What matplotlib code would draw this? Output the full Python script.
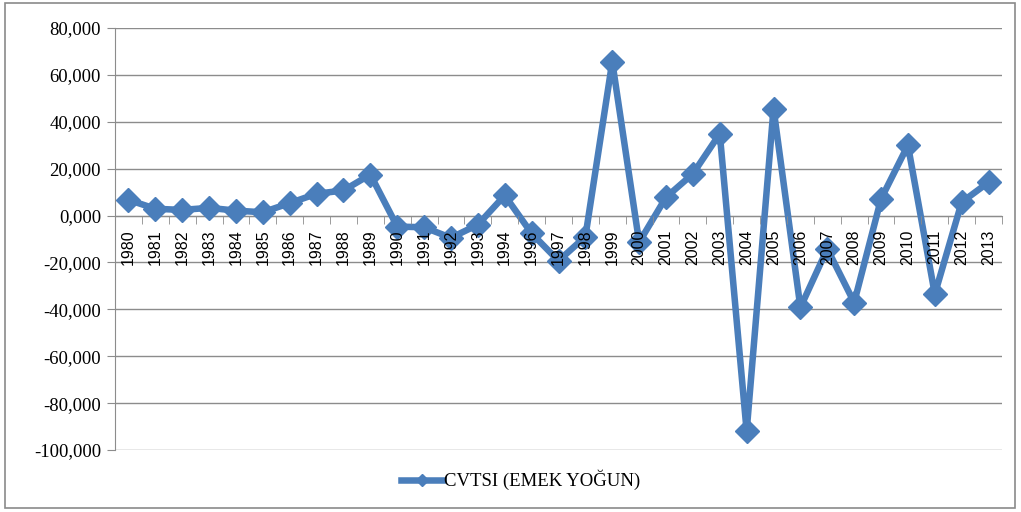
import matplotlib
matplotlib.use("Agg")
import matplotlib.pyplot as plt
from matplotlib.patches import Rectangle
from matplotlib.ticker import FixedLocator, FuncFormatter
import numpy as np

years = ["1980", "1981", "1982", "1983", "1984", "1985", "1986", "1987", "1988", "1989",
         "1990", "1991", "1992", "1993", "1994", "1996", "1997", "1998", "1999", "2000",
         "2001", "2002", "2003", "2004", "2005", "2006", "2007", "2008", "2009", "2010",
         "2011", "2012", "2013"]
cvtsi = [6700, 2900, 2400, 3300, 2100, 1400, 5300, 9300, 10700, 17500,
         -4700, -5000, -9500, -3900, 8600, -7600, -19300, -9000, 65600, -11400,
         7800, 17800, 34900, -92000, 45600, -39200, -14200, -37100, 7100, 30000,
         -33500, 5700, 14200]
series_name = "CVTSI (EMEK YOĞUN)"
y_ticks = [-100000, -80000, -60000, -40000, -20000, 0, 20000, 40000, 60000, 80000]

blue = "#4a7ebb"
grid_c = "#8c8c8c"

fig = plt.figure(figsize=(10.21, 5.12), dpi=100)
ax = fig.add_axes([115/1021, 1-450/512, (1002-115)/1021, (450-28)/512])

x = np.arange(len(years))
ax.plot(x, cvtsi, color=blue, lw=4.7, marker="D", markersize=12,
        markerfacecolor=blue, markeredgecolor=blue, label=series_name, zorder=3)

ax.set_xlim(-0.5, len(years) - 0.5)
ax.set_ylim(-100000, 80000)
ax.set_yticks(y_ticks)
ax.yaxis.set_major_formatter(FuncFormatter(lambda v, p: f"{int(v)/1000:.3f}".replace(".", ",") if v != 0 else "0,000"))
for lab in ax.get_yticklabels():
    lab.set_fontfamily("Liberation Serif")
    lab.set_fontsize(13.5)
ax.tick_params(axis="y", length=6, color=grid_c, pad=4, labelcolor="black")
ax.grid(axis="y", color=grid_c, lw=1)
ax.set_axisbelow(True)

for s in ["top", "right"]:
    ax.spines[s].set_visible(False)
ax.spines["left"].set_color(grid_c)
ax.spines["left"].set_zorder(1)
ax.spines["bottom"].set_position(("data", 0))
ax.spines["bottom"].set_color(grid_c)
ax.spines["bottom"].set_zorder(1)

ax.set_xticks(x)
ax.set_xticklabels(years, rotation=90, fontfamily="Liberation Sans", fontsize=11.5, va="top", ha="center")
ax.xaxis.set_minor_locator(FixedLocator(np.arange(-0.5, len(years), 1.0)))
ax.tick_params(axis="x", which="major", length=0, pad=10)
ax.tick_params(axis="x", which="minor", length=6, color=grid_c, direction="out")
ax.xaxis.set_zorder(5)

leg = fig.legend(loc="center", bbox_to_anchor=(521/1021, 1-480/512), frameon=False,
                 prop={"family": "Liberation Serif", "size": 13.5}, handlelength=2.2,
                 handletextpad=0.1, markerscale=0.55)

fig.patches.append(Rectangle((5/1021, 1-508/512), 1010/1021, 505/512, transform=fig.transFigure,
                             fill=False, edgecolor="#8a8a8a", lw=1.2))

fig.savefig("out.png", dpi=100)
